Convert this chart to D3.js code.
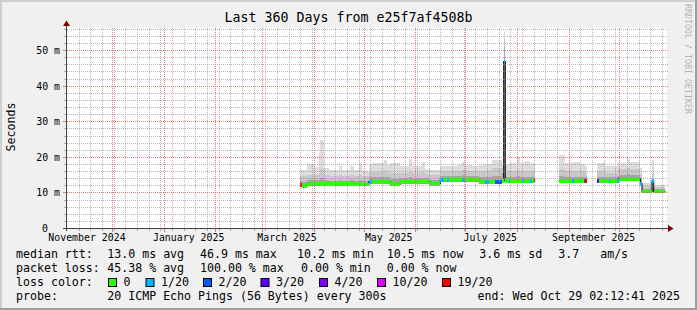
<!DOCTYPE html>
<html><head><meta charset="utf-8">
<script src="https://cdn.jsdelivr.net/npm/d3@7"></script>
<style>
body{margin:0;background:#f0f0f0}
svg{display:block}
text{font-family:"DejaVu Sans Mono",monospace;fill:#000;white-space:pre}
</style>
</head><body>
<svg id="chart" width="697" height="310"></svg>
<script>
// ---------------- data ----------------
const title = "Last 360 Days from e25f7af4508b";
const dates = ["2025-03-24","2025-03-25","2025-03-28","2025-04-01","2025-04-04","2025-04-05","2025-04-07","2025-04-10","2025-04-16","2025-04-18",
"2025-04-23","2025-04-25","2025-04-28","2025-04-30","2025-05-04","2025-05-06","2025-05-13","2025-05-15","2025-05-17","2025-05-23",
"2025-05-28","2025-05-30","2025-06-05","2025-06-07","2025-06-10","2025-06-16","2025-06-18","2025-06-20","2025-06-21","2025-06-26",
"2025-06-29","2025-07-01","2025-07-05","2025-07-09","2025-07-13","2025-07-15","2025-07-17","2025-07-19","2025-07-23","2025-07-24",
"2025-07-25","2025-07-27","2025-07-28","2025-08-01","2025-08-03","2025-08-04","2025-08-05","2025-08-09","2025-08-10","2025-08-11",
"2025-08-12","2025-08-26","2025-08-30","2025-09-03","2025-09-04","2025-09-08","2025-09-10","2025-09-11","2025-09-12","2025-09-18",
"2025-09-19","2025-09-23","2025-09-25","2025-09-26","2025-09-30","2025-10-01","2025-10-06","2025-10-08","2025-10-14","2025-10-15",
"2025-10-21","2025-10-22","2025-10-29T02:12:41"];
const median = [12.1,11.8,12.3,12.3,12.3,12.3,12.3,12.3,12.3,12.3,
12.3,12.3,12.3,12.2,13.0,13.0,13.0,13.0,12.3,12.9,
12.9,12.9,12.9,12.9,12.5,13.5,13.5,13.5,13.5,13.5,
13.5,13.5,13.5,13.0,13.0,13.0,13.0,12.9,13.2,46.8,
13.2,13.2,13.2,13.2,13.2,13.2,13.2,13.2,13.2,13.3,
null,13.2,13.2,13.2,13.2,13.2,13.2,13.2,null,13.2,
13.2,13.2,13.2,13.2,13.2,13.8,13.8,13.8,12.5,10.2,
13.2,10.3,null];
const loss = [19,0,0,0,0,0,0,0,0,0,
0,0,0,0,1,0,0,0,0,0,
0,0,0,0,0,1,0,1,0,0,
1,0,0,0,1,0,0,2,0,1,
0,1,0,0,0,1,0,1,0,19,
null,0,0,1,0,0,2,19,null,4,
0,0,1,0,1,0,0,0,1,0,
1,0,null];
const smokeMin = [11.6,11.3,11.8,11.8,11.8,11.8,11.8,11.8,11.8,11.8,
11.8,11.8,11.8,11.7,12.4,12.4,12.4,12.4,11.8,12.3,
12.3,12.3,12.3,12.3,11.9,12.9,12.9,12.9,12.9,12.9,
12.9,12.9,12.9,12.4,12.4,12.4,12.4,12.3,12.6,13.0,
12.6,12.6,12.6,12.6,12.6,12.6,12.6,12.6,12.6,12.7,
null,12.6,12.6,12.6,12.6,12.6,12.6,12.6,null,12.6,
12.6,12.6,12.6,12.6,12.6,13.2,13.2,13.2,11.9,9.8,
10.0,9.9,null];
const smokeMid = [13.2,13.0,13.5,13.4,13.6,14.0,13.4,13.3,13.4,13.3,
13.4,13.3,13.5,13.3,14.2,14.2,14.4,14.2,13.7,14.1,
14.3,14.1,14.1,14.0,13.6,14.6,14.6,14.6,14.6,14.7,
14.8,14.7,14.6,14.3,14.3,14.3,14.6,14.6,15.5,51.0,
14.4,14.4,14.4,14.5,14.4,14.4,14.4,14.4,14.4,14.4,
null,14.6,14.4,14.4,14.4,14.4,14.4,14.3,null,14.4,
14.4,14.2,14.2,14.2,14.5,15.0,15.1,15.0,13.8,11.0,
13.0,11.0,null];
const smokeHi = [14.6,14.5,15.0,14.8,15.4,16.5,14.8,14.6,14.9,14.6,
14.8,14.6,15.0,14.6,15.8,15.8,16.2,15.8,15.4,15.6,
16.0,15.6,15.8,15.3,15.0,15.9,15.9,15.9,15.9,16.1,
16.3,16.1,15.9,16.0,16.0,16.0,16.8,16.8,17.0,53.5,
16.0,16.0,16.0,16.3,16.0,16.0,16.1,16.0,16.0,16.0,
null,16.5,16.0,16.0,16.0,16.0,16.0,15.8,null,16.0,
16.0,15.6,15.6,15.6,16.2,16.6,16.9,16.6,15.3,11.8,
15.5,11.6,null];
const smokeMax = [16.3,16.4,18.0,17.2,21.0,24.7,17.0,16.2,17.5,16.3,
17.3,16.2,18.2,16.0,17.8,18.3,19.0,17.8,18.2,17.5,
19.3,17.5,18.5,16.5,16.4,17.5,17.5,17.3,17.3,17.8,
18.5,17.8,17.5,17.8,18.0,18.0,19.1,19.1,18.0,55.5,
18.0,18.0,18.2,20.0,18.3,18.3,18.7,18.3,18.3,18.0,
null,20.5,18.3,18.6,18.6,18.0,18.0,17.5,null,18.3,
18.3,17.3,17.3,17.3,18.3,18.3,19.3,18.5,17.0,12.6,
19.1,12.0,null];

const lossLevels = [0,1,2,3,4,10,19];
const lossLabels = ["0","1/20","2/20","3/20","4/20","10/20","19/20"];
const lossColors = ["#26ff00","#00b8ff","#0059ff","#5e00ff","#7e00ff","#dd00ff","#ff0000"];
const smokeColors = ["#dddddd","#c8c8c8","#a6a6a6"];

const yTicks = [0,10,20,30,40,50];
const yTickLabels = ["0","10 m","20 m","30 m","40 m","50 m"];
const xLabelMonths = ["2024-11-01","2025-01-01","2025-03-01","2025-05-01","2025-07-01","2025-09-01"];
const xLabels = ["November 2024","January 2025","March 2025","May 2025","July 2025","September 2025"];

const legendRtt = ["median rtt:","13.0 ms avg","46.9 ms max","10.2 ms min","10.5 ms now","3.6 ms sd","3.7   am/s"];
const legendLoss = ["packet loss:","45.38 % avg","100.00 % max","0.00 % min","0.00 % now"];
const legendColorTitle = "loss color:";
const legendProbe = ["probe:","20 ICMP Echo Pings (56 Bytes) every 300s"];
const legendEnd = "end: Wed Oct 29 02:12:41 2025";
const watermark = "RRDTOOL / TOBI OETIKER";

// ---------------- drawing ----------------
const W = 697, H = 310;
const svg = d3.select("#chart");
const parse = s => new Date(s.length > 10 ? s + "Z" : s + "T00:00:00Z");
const tStart = new Date(Date.UTC(2024,10,4));
const tEnd = new Date(Date.UTC(2025,9,30));
const x = d3.scaleUtc().domain([tStart, tEnd]).range([67, 667]);
const y = d3.scaleLinear().domain([0, 56.22]).range([228, 28]);

// background + 3D frame
svg.append("rect").attr("width", W).attr("height", H).attr("fill", "#f0f0f0");
svg.append("rect").attr("x",0).attr("y",0).attr("width",W).attr("height",2).attr("fill","#cfcfcf");
svg.append("rect").attr("x",0).attr("y",0).attr("width",2).attr("height",H).attr("fill","#cfcfcf");
svg.append("rect").attr("x",0).attr("y",H-2).attr("width",W).attr("height",2).attr("fill","#9e9e9e");
svg.append("rect").attr("x",W-2).attr("y",0).attr("width",2).attr("height",H).attr("fill","#9e9e9e");
// canvas
svg.append("rect").attr("x",67).attr("y",28).attr("width",600).attr("height",200).attr("fill","#fff");

// rows
const rows = dates.map((d,i) => ({t: parse(d), med: median[i], loss: loss[i],
  mn: smokeMin[i], md: smokeMid[i], hi: smokeHi[i], mx: smokeMax[i]}));
const pts = [];
for (let i = 0; i < rows.length - 1; i++) {
  const r = rows[i];
  if (r.med == null) { pts.push({t: r.t, def: false}); continue; }
  pts.push(Object.assign({}, r, {def: true}));
  pts.push(Object.assign({}, r, {t: rows[i+1].t, def: true}));
}
const plot = svg.append("g");
const layers = [["mx",smokeColors[0]],["hi",smokeColors[1]],["md",smokeColors[2]]];
layers.forEach(([k,c]) => {
  plot.append("path").datum(pts)
    .attr("d", d3.area().defined(d=>d.def).x(d=>x(d.t)).y0(d=>y(d.mn)).y1(d=>y(d[k])))
    .attr("fill", c).attr("shape-rendering","crispEdges");
});
plot.append("path").datum(pts)
  .attr("d", d3.line().defined(d=>d.def).x(d=>x(d.t)).y(d=>y(d.med)))
  .attr("fill","none").attr("stroke","#202020").attr("stroke-width",1.2);
const colorOf = l => { let idx = 0; lossLevels.forEach((v,i)=>{ if (l >= v) idx = i; }); return lossColors[idx]; };
rows.slice(0,-1).forEach((r,i) => {
  if (r.med == null) return;
  const x0 = x(r.t), x1 = x(rows[i+1].t);
  plot.append("rect").attr("x", x0).attr("width", x1 - x0)
    .attr("y", y(r.med) - 1.75).attr("height", 3.5)
    .attr("fill", colorOf(r.loss)).attr("shape-rendering","crispEdges");
});

// grid (drawn over data)
const grid = svg.append("g");
const minorCol = "rgba(143,143,143,0.65)", majorCol = "rgba(222,80,80,0.75)";
const months = d3.utcMonth.range(tStart, tEnd);
const monthSet = new Set(months.map(d=>+d));
d3.utcMonday.range(tStart, tEnd).forEach(d => {
  if (monthSet.has(+d)) return;
  const xx = Math.round(x(d)) + 0.5;
  if (xx < 69) return;
  grid.append("line").attr("x1",xx).attr("x2",xx).attr("y1",28).attr("y2",228)
    .attr("stroke",minorCol).attr("stroke-dasharray","1,1");
  grid.append("line").attr("x1",xx).attr("x2",xx).attr("y1",229).attr("y2",231).attr("stroke",minorCol);
});
months.forEach(d => {
  const xx = Math.round(x(d)) + 0.5;
  grid.append("line").attr("x1",xx).attr("x2",xx).attr("y1",28).attr("y2",228)
    .attr("stroke",majorCol).attr("stroke-dasharray","1,1");
  grid.append("line").attr("x1",xx).attr("x2",xx).attr("y1",229).attr("y2",232).attr("stroke",majorCol);
});
d3.range(2, 57, 2).forEach(v => {
  if (y(v) < 28) return;
  const yy = Math.round(y(v)) + 0.5;
  const major = v % 10 === 0;
  grid.append("line").attr("x1",67).attr("x2",669).attr("y1",yy).attr("y2",yy)
    .attr("stroke", major ? majorCol : minorCol).attr("stroke-dasharray","1,1");
  grid.append("line").attr("x1",major?63:64).attr("x2",66).attr("y1",yy).attr("y2",yy)
    .attr("stroke", major ? majorCol : minorCol);
});

// axes
const axisCol = "#404040";
svg.append("line").attr("x1",63).attr("x2",669).attr("y1",228.5).attr("y2",228.5).attr("stroke",axisCol);
svg.append("line").attr("x1",66.5).attr("x2",66.5).attr("y1",231).attr("y2",25).attr("stroke",axisCol);
svg.append("path").attr("d","M668,225L673.5,228.5L668,232Z").attr("fill","#7f0000");
svg.append("path").attr("d","M63,26L66.5,20.5L70,26Z").attr("fill","#7f0000");

// y tick labels
yTicks.forEach((v,i) => {
  svg.append("text").attr("x", v === 0 ? 48 : 60).attr("y", Math.round(y(v)) + 4)
    .attr("text-anchor","end").attr("font-size","9.9px").text(yTickLabels[i]);
});
// x labels centered at month start + 15 days
xLabelMonths.forEach((m,i) => {
  svg.append("text").attr("x", x(d3.utcDay.offset(parse(m), 15))).attr("y", 240.5)
    .attr("text-anchor","middle").attr("font-size","9.9px").text(xLabels[i]);
});

// title, y label, watermark
svg.append("text").attr("x", 348.5).attr("y", 22).attr("text-anchor","middle")
  .attr("font-size","13.3px").text(title);
svg.append("text").attr("transform","translate(15,127) rotate(-90)").attr("text-anchor","middle")
  .attr("font-size","11.6px").text("Seconds");
svg.append("text").attr("transform","translate(685,4) rotate(90)").attr("text-anchor","start")
  .attr("font-size","8.3px").style("fill","#b4b4b4").text(watermark);

// legend
const lg = svg.append("g").attr("font-size","11.6px");
const rttX = [16,107.3,200,297,386.7,479.3,558.3];
legendRtt.forEach((s,i)=> lg.append("text").attr("x",rttX[i]).attr("y",258).text(s));
const lossX = [16,107.3,200,301,386.7];
legendLoss.forEach((s,i)=> lg.append("text").attr("x",lossX[i]).attr("y",272).text(s));
lg.append("text").attr("x",16).attr("y",286).text(legendColorTitle);
const swX = [108.5,146,203.5,261,319.5,377.5,442.5];
lossLabels.forEach((s,i)=>{
  lg.append("rect").attr("x",swX[i]).attr("y",278.5).attr("width",8).attr("height",8)
    .attr("fill",lossColors[i]).attr("stroke","#000").attr("stroke-width",1);
  lg.append("text").attr("x",swX[i]+15).attr("y",286).text(s);
});
lg.append("text").attr("x",16).attr("y",300).text(legendProbe[0]);
lg.append("text").attr("x",107.3).attr("y",300).text(legendProbe[1]);
lg.append("text").attr("x",680).attr("y",300).attr("text-anchor","end").text(legendEnd);
</script>
</body></html>
